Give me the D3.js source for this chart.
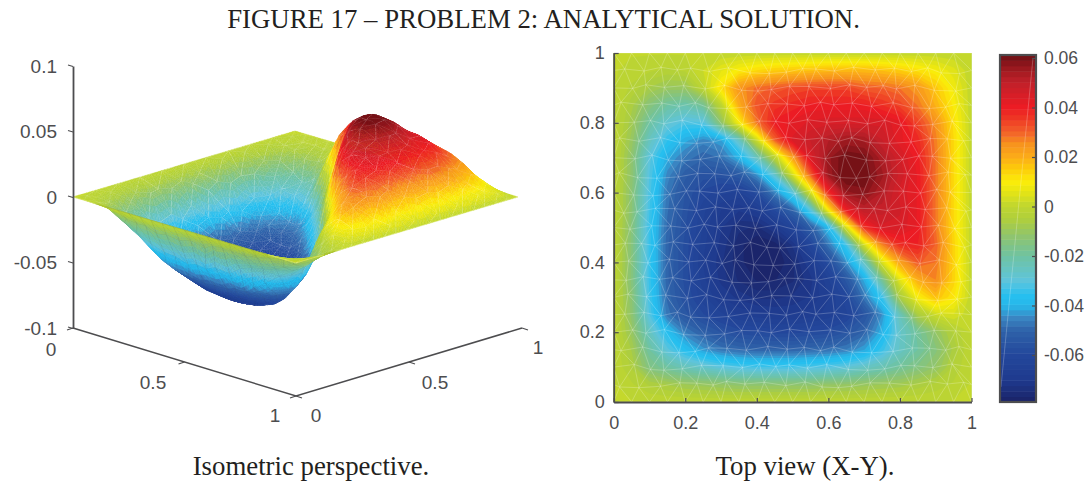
<!DOCTYPE html>
<html>
<head>
<meta charset="utf-8">
<script src="https://cdn.jsdelivr.net/npm/d3@7"></script>
<style>
  html, body { margin: 0; background: #fff; overflow: hidden; }
  .ticklabel { font-family: "Liberation Sans", sans-serif; fill: #4d4d4f; }
  .caption { font-family: "Liberation Serif", serif; fill: #231f20; text-anchor: middle; }
</style>
</head>
<body>
<div id="chart"></div>
<script>
// grid positions of the surface values (both directions)
const gridSteps = [0, .05, .1, .15, .2, .25, .3, .35, .4, .45, .5, .55, .6, .65, .7, .75, .8, .85, .9, .95, 1];

const surfaceRows = [
  [0,0,0,0,0,0,0,0,0,0,0,0,0,0,0,0,0,0,0,0,0],
  [0,-.002,-.005,-.007,-.009,-.010,-.011,-.012,-.012,-.012,-.012,-.012,-.011,-.011,-.010,-.009,-.008,-.006,-.004,-.002,0],
  [0,-.005,-.015,-.020,-.024,-.027,-.030,-.032,-.033,-.033,-.033,-.032,-.031,-.029,-.026,-.023,-.019,-.015,-.011,-.004,0],
  [0,-.007,-.020,-.030,-.037,-.043,-.047,-.049,-.050,-.050,-.050,-.049,-.048,-.046,-.042,-.034,-.026,-.020,-.014,-.006,0],
  [0,-.010,-.025,-.037,-.046,-.051,-.055,-.058,-.059,-.060,-.060,-.059,-.058,-.055,-.050,-.040,-.027,-.019,-.011,-.004,0],
  [0,-.012,-.031,-.047,-.054,-.059,-.063,-.066,-.067,-.068,-.068,-.067,-.065,-.062,-.055,-.044,-.024,-.006,.002,.004,0],
  [0,-.013,-.033,-.049,-.057,-.063,-.068,-.071,-.073,-.073,-.072,-.070,-.066,-.060,-.047,-.034,-.006,.009,.017,.011,0],
  [0,-.014,-.034,-.050,-.058,-.065,-.071,-.075,-.077,-.077,-.075,-.071,-.064,-.054,-.041,-.018,.006,.020,.026,.014,0],
  [0,-.014,-.034,-.050,-.058,-.066,-.072,-.076,-.079,-.079,-.075,-.068,-.058,-.044,-.026,.004,.022,.031,.028,.014,0],
  [0,-.014,-.034,-.050,-.058,-.065,-.071,-.076,-.079,-.078,-.072,-.061,-.047,-.033,.003,.026,.037,.039,.030,.014,0],
  [0,-.014,-.034,-.049,-.057,-.064,-.070,-.074,-.075,-.070,-.062,-.052,-.038,.004,.036,.045,.045,.041,.028,.013,0],
  [0,-.013,-.033,-.048,-.056,-.063,-.068,-.070,-.067,-.059,-.050,-.030,.010,.040,.050,.049,.046,.041,.028,.013,0],
  [0,-.013,-.032,-.047,-.055,-.060,-.063,-.064,-.058,-.045,-.030,.004,.037,.056,.058,.052,.045,.041,.028,.013,0],
  [0,-.012,-.031,-.045,-.052,-.056,-.056,-.053,-.044,-.028,.003,.030,.055,.062,.061,.055,.047,.041,.028,.013,0],
  [0,-.012,-.030,-.041,-.047,-.050,-.048,-.040,-.025,-.002,.022,.044,.056,.061,.060,.053,.046,.040,.028,.013,0],
  [0,-.010,-.025,-.035,-.041,-.045,-.042,-.026,.002,.030,.044,.048,.052,.055,.054,.048,.042,.038,.027,.013,0],
  [0,-.008,-.020,-.028,-.032,-.031,-.012,.009,.028,.040,.042,.044,.045,.045,.045,.045,.042,.034,.025,.012,0],
  [0,-.006,-.014,-.020,-.022,-.018,-.001,.020,.032,.036,.038,.040,.040,.040,.040,.037,.034,.028,.019,.010,0],
  [0,-.003,-.007,-.010,-.010,-.001,.012,.024,.029,.031,.033,.034,.034,.034,.031,.030,.028,.024,.016,.008,0],
  [0,-.001,-.002,-.003,-.002,.002,.006,.010,.013,.015,.016,.017,.018,.018,.018,.017,.015,.012,.009,.005,0],
  [0,0,0,0,0,0,0,0,0,0,0,0,0,0,0,0,0,0,0,0,0]
];

// colormap as it looks on the colorbar
const colorStops = [-.079, -.07, -.06, -.05, -.045, -.04, -.036, -.03, -.02, -.012, -.005, 0, .006, .01, .016, .02, .025, .03, .036, .04, .05, .055, .061];
const colorValues = ["#1b2266", "#1f3a8e", "#23479c", "#2f62a9", "#3a86c2", "#27b7ea", "#26c0f0", "#5ec4dc", "#6fc3a2", "#8fc46e", "#b0cf3b", "#bfd630", "#e6e514", "#fbed09", "#fdc70b", "#fbab18", "#f7941d", "#f2612a", "#ee3424", "#ed1c24", "#c0202a", "#a01a20", "#6d0f14"];

const topTicks = [0, .2, .4, .6, .8, 1];
const zTicks = [.1, .05, 0, -.05, -.1];
const barTicks = [.06, .04, .02, 0, -.02, -.04, -.06];
const floorTicks = [0, .5, 1];

// shifts of the mesh nodes in cell units, the real mesh is unstructured
const meshShiftX = [.12, -.17, .06, .2, -.09, -.2, .15];
const meshShiftY = [-.14, .1, .18, -.06, -.18, .08, .03, .15, -.1, -.03, .13];

const width = 1090;
const height = 481;
const inkColor = "#4d4d4f";

const svg = d3.select("#chart").append("svg")
    .attr("width", width)
    .attr("height", height);

// titles
svg.append("text").attr("class", "caption").attr("x", 543.5).attr("y", 28).style("font-size", "26.8px")
    .text("FIGURE 17 – PROBLEM 2: ANALYTICAL SOLUTION.");
svg.append("text").attr("class", "caption").attr("x", 311).attr("y", 475).style("font-size", "26.8px")
    .text("Isometric perspective.");
svg.append("text").attr("class", "caption").attr("x", 805).attr("y", 475).style("font-size", "26.8px")
    .text("Top view (X-Y).");

// 64 flat colour levels like the matlab colormap
const colorLookup = d3.scaleLinear().domain(colorStops).range(colorValues).interpolate(d3.interpolateRgb);
const zMin = -.079, zMax = .061;
const levels = 64;
const levelColors = d3.range(levels).map(i => colorLookup(zMin + (i + .5) * (zMax - zMin) / levels));
const colorScale = d3.scaleQuantize().domain([zMin, zMax]).range(levelColors);

// surface height anywhere inside the grid (shading only)
const cellOf = d3.scaleLinear().domain([0, 1]).range([0, gridSteps.length - 1]);
function heightAt(x, y) {
    const cx = Math.min(cellOf(x), gridSteps.length - 1.0001);
    const cy = Math.min(cellOf(y), gridSteps.length - 1.0001);
    const i = Math.floor(cx), j = Math.floor(cy);
    const a = cx - i, b = cy - j;
    return (1 - b) * ((1 - a) * surfaceRows[j][i] + a * surfaceRows[j][i + 1]) +
        b * ((1 - a) * surfaceRows[j + 1][i] + a * surfaceRows[j + 1][i + 1]);
}

// triangle mesh, every second row shifted half a cell
const step = gridSteps[1];
const meshRows = gridSteps.map((y, j) => {
    const xs = j % 2 === 0 ? gridSteps.slice() : [0, ...gridSteps.slice(0, -1).map(x => x + step / 2), 1];
    return xs.map((x, i) => {
        const edgeX = i === 0 || i === xs.length - 1;
        const edgeY = j === 0 || j === gridSteps.length - 1;
        return {
            x: edgeX ? x : x + (edgeY ? 0 : meshShiftX[(i * 3 + j * 5) % meshShiftX.length] * step),
            y: edgeY ? y : y + (edgeX ? 0 : meshShiftY[(i * 4 + j * 7) % meshShiftY.length] * step)
        };
    });
});
const meshTriangles = [];
const meshEdges = new Map();
function addEdge(p, q) {
    const key = [p.x, p.y, q.x, q.y].join();
    const yek = [q.x, q.y, p.x, p.y].join();
    if (!meshEdges.has(key) && !meshEdges.has(yek)) meshEdges.set(key, [p, q]);
}
d3.range(meshRows.length - 1).forEach(j => {
    const lower = meshRows[j], upper = meshRows[j + 1];
    let a = 0, b = 0;
    while (a < lower.length - 1 || b < upper.length - 1) {
        const nextA = a < lower.length - 1 ? lower[a + 1].x : Infinity;
        const nextB = b < upper.length - 1 ? upper[b + 1].x : Infinity;
        let tri;
        if (nextA <= nextB) { tri = [lower[a], lower[a + 1], upper[b]]; a++; }
        else { tri = [lower[a], upper[b + 1], upper[b]]; b++; }
        meshTriangles.push(tri);
        addEdge(tri[0], tri[1]); addEdge(tri[1], tri[2]); addEdge(tri[2], tri[0]);
    }
});

// ---------- top view ----------
const xTop = d3.scaleLinear().domain([0, 1]).range([613.7, 971.5]);
const yTop = d3.scaleLinear().domain([0, 1]).range([402, 53]);

const topView = svg.append("g");
topView.append("rect")
    .attr("x", xTop(0)).attr("y", yTop(1))
    .attr("width", xTop(1) - xTop(0)).attr("height", yTop(0) - yTop(1))
    .attr("fill", levelColors[0]);

// contour coordinates have the values on pixel centres
const n = gridSteps.length;
const contourToData = d3.scaleLinear().domain([.5, n - .5]).range([0, 1]).clamp(true);
const contourPath = d3.geoPath(d3.geoTransform({
    point(x, y) { this.stream.point(xTop(contourToData(x)), yTop(contourToData(y))); }
}));
const bands = d3.contours().size([n, n]).thresholds(colorScale.thresholds())(surfaceRows.flat());
topView.selectAll("path.band")
    .data(bands)
    .join("path")
    .attr("class", "band")
    .attr("d", contourPath)
    .attr("fill", (d, i) => levelColors[i + 1]);

const edgeList = Array.from(meshEdges.values());
topView.append("path")
    .attr("d", edgeList.map(([p, q]) => `M${xTop(p.x)},${yTop(p.y)}L${xTop(q.x)},${yTop(q.y)}`).join(""))
    .attr("fill", "none")
    .attr("stroke", "#fff")
    .attr("stroke-opacity", .32)
    .attr("stroke-width", .7);

function styleAxis(g, size) {
    g.selectAll("path").attr("stroke", inkColor).attr("stroke-width", 1.8);
    g.selectAll("line").attr("stroke", inkColor).attr("stroke-width", 1.2);
    g.selectAll("text").attr("class", "ticklabel").style("font-size", size);
}
const fmt = d => String(d);

svg.append("g").attr("transform", `translate(0,${yTop(0)})`)
    .call(d3.axisBottom(xTop).tickValues(topTicks).tickSize(-4).tickSizeOuter(0).tickPadding(14).tickFormat(fmt))
    .call(g => styleAxis(g, "18px"));
svg.append("g").attr("transform", `translate(${xTop(0)},0)`)
    .call(d3.axisLeft(yTop).tickValues(topTicks).tickSize(-5).tickSizeOuter(0).tickPadding(9).tickFormat(fmt))
    .call(g => styleAxis(g, "18px"));

// ---------- colorbar ----------
const yBar = d3.scaleLinear().domain([zMin, zMax]).range([402, 55]);
const yBarAxis = d3.scaleLinear().domain([-.06, .06]).range([355, 58]);
const barLeft = 1000, barRight = 1036;

svg.append("g").selectAll("rect")
    .data(levelColors)
    .join("rect")
    .attr("x", barLeft)
    .attr("width", barRight - barLeft)
    .attr("y", (d, i) => yBar(zMin + (i + 1) * (zMax - zMin) / levels))
    .attr("height", (yBar(zMin) - yBar(zMax)) / levels + .5)
    .attr("fill", d => d);
svg.append("path").attr("d", "M1033,58L1001,387").attr("stroke", "#fff").attr("stroke-opacity", .3).attr("stroke-width", .8);
svg.append("rect")
    .attr("x", barLeft).attr("y", 55)
    .attr("width", barRight - barLeft).attr("height", 347)
    .attr("fill", "none").attr("stroke", inkColor).attr("stroke-width", 2.2);
svg.append("g").attr("transform", `translate(${barRight},0)`)
    .call(d3.axisRight(yBarAxis).tickValues(barTicks).tickSize(-4).tickSizeOuter(0).tickPadding(8).tickFormat(fmt))
    .call(g => g.select(".domain").remove())
    .call(g => styleAxis(g, "17.5px"));

// ---------- isometric view ----------
const xIso = d3.scaleLinear().domain([0, 1]).range([0, 223]);
const yIsoX = d3.scaleLinear().domain([0, 1]).range([0, 222]);
const slant = d3.scaleLinear().domain([0, 1]).range([0, 66]);
const zIso = d3.scaleLinear().domain([-.1, .1]).range([328, 66]);

const project = (x, y, z) => [73 + xIso(x) + yIsoX(y), zIso(z) + slant(x) - slant(y)];
const depthOf = (x, y, z) => 211 * (x - y) + 412 * z;

// true when we look at the upper side of the surface at this spot
function seenFromAbove(x, y) {
    const e = .004;
    const sx = x < .5 ? e : -e, sy = y < .5 ? e : -e;
    const p0 = project(x, y, heightAt(x, y));
    const p1 = project(x + sx, y, heightAt(x + sx, y));
    const p2 = project(x, y + sy, heightAt(x, y + sy));
    const cross = (p1[0] - p0[0]) * (p2[1] - p0[1]) - (p1[1] - p0[1]) * (p2[0] - p0[0]);
    return cross * sx * sy < 0;
}

// split mesh triangles up so the colours shade over them
const divide = 4;
const isoItems = [];
meshTriangles.forEach(([a, b, c]) => {
    const at = (u, v) => {
        const w = divide - u - v;
        const x = (a.x * w + b.x * u + c.x * v) / divide;
        const y = (a.y * w + b.y * u + c.y * v) / divide;
        return {x: x, y: y, z: heightAt(x, y)};
    };
    const pushTri = tri => {
        const mx = d3.mean(tri, d => d.x), my = d3.mean(tri, d => d.y), mz = d3.mean(tri, d => d.z);
        const fill = colorScale(mz);
        isoItems.push({
            depth: depthOf(mx, my, mz),
            fill: fill,
            points: tri.map(d => project(d.x, d.y, d.z).join()).join(" ")
        });
    };
    for (let u = 0; u < divide; u++) {
        for (let v = 0; v < divide - u; v++) {
            pushTri([at(u, v), at(u + 1, v), at(u, v + 1)]);
            if (u + v < divide - 1) pushTri([at(u + 1, v), at(u + 1, v + 1), at(u, v + 1)]);
        }
    }
});
edgeList.forEach(([p, q]) => {
    const parts = 4;
    d3.range(parts).forEach(k => {
        const t0 = k / parts, t1 = (k + 1) / parts;
        const x0 = p.x + (q.x - p.x) * t0, y0 = p.y + (q.y - p.y) * t0;
        const x1 = p.x + (q.x - p.x) * t1, y1 = p.y + (q.y - p.y) * t1;
        const z0 = heightAt(x0, y0), z1 = heightAt(x1, y1);
        const mx = (x0 + x1) / 2, my = (y0 + y1) / 2;
        isoItems.push({
            depth: depthOf(mx, my, (z0 + z1) / 2) + .6,
            line: [project(x0, y0, z0), project(x1, y1, z1)],
            above: seenFromAbove(mx, my)
        });
    });
});
isoItems.sort((a, b) => d3.ascending(a.depth, b.depth));

const isoView = svg.append("g");
isoView.selectAll("*")
    .data(isoItems)
    .join(enter => enter.append(d => document.createElementNS(d3.namespaces.svg, d.line ? "line" : "polygon")))
    .each(function(d) {
        const el = d3.select(this);
        if (d.line) {
            el.attr("x1", d.line[0][0]).attr("y1", d.line[0][1])
              .attr("x2", d.line[1][0]).attr("y2", d.line[1][1])
              .attr("stroke", d.above ? "#fff" : "#3c4a55")
              .attr("stroke-opacity", d.above ? .36 : .22)
              .attr("stroke-width", .65);
        } else {
            el.attr("points", d.points).attr("fill", d.fill).attr("stroke", d.fill).attr("stroke-width", .4);
        }
    });

// z axis
svg.append("g").attr("transform", "translate(73,0)")
    .call(d3.axisLeft(zIso).tickValues(zTicks).tickSize(5).tickSizeOuter(0).tickPadding(11).tickFormat(fmt))
    .call(g => styleAxis(g, "19px"))
    .call(g => g.selectAll(".tick line").attr("y2", -1.5));

// floor axes, the one on the left runs 0..1 to the near corner, the other away from it
const leftCorner = [73, 328], nearCorner = [296, 396], rightCorner = [522, 328];
const leftAxisX = d3.scaleLinear().domain([0, 1]).range([leftCorner[0], nearCorner[0]]);
const leftAxisY = d3.scaleLinear().domain([0, 1]).range([leftCorner[1], nearCorner[1]]);
const rightAxisX = d3.scaleLinear().domain([0, 1]).range([nearCorner[0], rightCorner[0]]);
const rightAxisY = d3.scaleLinear().domain([0, 1]).range([nearCorner[1], rightCorner[1]]);

const floorAxes = svg.append("g").attr("stroke", inkColor).attr("fill", "none");
floorAxes.append("polyline")
    .attr("points", [leftCorner, nearCorner, rightCorner].map(d => d.join()).join(" "))
    .attr("stroke-width", 1.5);
floorAxes.selectAll("line.left")
    .data(floorTicks)
    .join("line").attr("class", "left")
    .attr("x1", leftAxisX).attr("y1", leftAxisY)
    .attr("x2", d => leftAxisX(d) - 6).attr("y2", d => leftAxisY(d) + 2)
    .attr("stroke-width", 1.2);
floorAxes.selectAll("line.right")
    .data(floorTicks)
    .join("line").attr("class", "right")
    .attr("x1", rightAxisX).attr("y1", rightAxisY)
    .attr("x2", d => rightAxisX(d) + 6).attr("y2", d => rightAxisY(d) + 2)
    .attr("stroke-width", 1.2);

// label spots along the floor axes
const leftLabelX = d3.scaleLinear().domain([0, .5, 1]).range([51, 153, 275]);
const leftLabelY = d3.scaleLinear().domain([0, .5, 1]).range([349, 382, 415]);
const rightLabelX = d3.scaleLinear().domain([0, .5, 1]).range([316, 435, 538]);
const rightLabelY = d3.scaleLinear().domain([0, .5, 1]).range([415, 382, 347]);

svg.selectAll("text.leftlabel")
    .data(floorTicks)
    .join("text").attr("class", "ticklabel leftlabel")
    .attr("x", leftLabelX).attr("y", leftLabelY)
    .attr("dy", ".35em").attr("text-anchor", "middle").style("font-size", "19px")
    .text(fmt);
svg.selectAll("text.rightlabel")
    .data(floorTicks)
    .join("text").attr("class", "ticklabel rightlabel")
    .attr("x", rightLabelX).attr("y", rightLabelY)
    .attr("dy", ".35em").attr("text-anchor", "middle").style("font-size", "19px")
    .text(fmt);
</script>
</body>
</html>
